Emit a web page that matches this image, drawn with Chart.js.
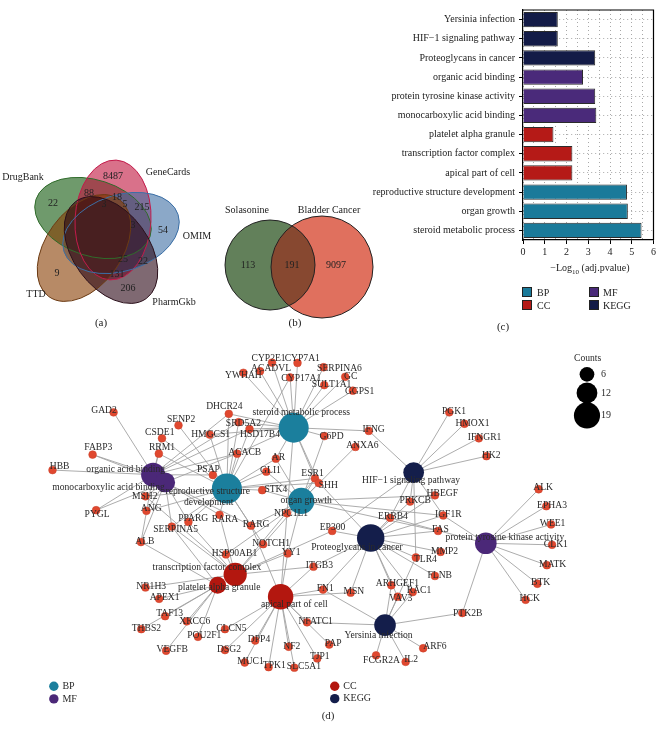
<!DOCTYPE html>
<html>
<head>
<meta charset="utf-8">
<script src="https://cdn.jsdelivr.net/npm/chart.js@4.4.1/dist/chart.umd.min.js"></script>
<style>
  body { margin: 0; background: #fff; }
  #page { position: relative; width: 658px; height: 738px; overflow: hidden;
          font-family: 'Liberation Serif', 'DejaVu Serif', serif; color: #222; }
  canvas { position: absolute; }
  .cap { position: absolute; font-size: 11px; transform: translate(-50%, -50%); white-space: nowrap; }
  .lg { position: absolute; font-size: 10px; white-space: nowrap; transform: translateY(-50%); }
  .sq { position: absolute; width: 8px; height: 8px; border: 1px solid #222; transform: translateY(-50%); }
</style>
</head>
<body>
<div id="page">
  <canvas id="vennChart" width="380" height="180" style="left:0;top:150px"></canvas>
  <canvas id="barChart" width="318" height="262" style="left:340px;top:0"></canvas>
  <canvas id="netChart" width="658" height="408" style="left:0;top:330px"></canvas>

  <div class="cap" style="left:101px;top:322px">(a)</div>
  <div class="cap" style="left:295px;top:322px">(b)</div>
  <div class="cap" style="left:590px;top:269px;font-size:10px">&minus;Log<sub style="font-size:7px">10</sub> (adj.pvalue)</div>
  <div class="sq" style="left:522px;top:292px;background:#1a7a9a"></div>
  <div class="lg" style="left:537px;top:292px">BP</div>
  <div class="sq" style="left:589px;top:292px;background:#4a2a7a"></div>
  <div class="lg" style="left:603px;top:292px">MF</div>
  <div class="sq" style="left:522px;top:305px;background:#b51a17"></div>
  <div class="lg" style="left:537px;top:305px">CC</div>
  <div class="sq" style="left:589px;top:305px;background:#131b47"></div>
  <div class="lg" style="left:603px;top:305px">KEGG</div>
  <div class="cap" style="left:503px;top:326px">(c)</div>
</div>

<script>
// ---------- (a) five-set Venn ----------
const vennSets = ['DrugBank', 'GeneCards', 'OMIM', 'TTD', 'PharmGkb'];
const vennCx = [93, 113, 121, 84, 111];
const vennCy = [218, 220, 233, 248, 250];
const vennRx = [60, 60, 60, 60, 60];
const vennRy = [38, 38, 38, 38, 38];
const vennAngle = [18, 93, -18, -54, 54];
const vennLabelX = [23, 168, 197, 36, 174];
const vennLabelY = [177, 172, 236, 294, 302];
const regionCounts = ['8487', '88', '18', '22', '3', '5', '215', '3', '54', '25', '22', '9', '131', '206'];
const regionX = [113, 89, 117, 53, 104, 125, 142, 133, 163, 123, 143, 57, 117, 128];
const regionY = [176, 193, 197, 203, 204, 204, 207, 225, 230, 259, 261, 273, 274, 288];

// ---------- (b) two-set Venn ----------
const pairSets = ['Solasonine', 'Bladder Cancer'];
const pairCounts = ['113', '191', '9097'];
const pairCx = [270, 322];
const pairCy = [265, 267];
const pairR = [45, 51];
const pairLabelX = [247, 329];
const pairCountX = [248, 292, 336];

// ---------- (c) enrichment bars ----------
const barTerms = ['Yersinia infection', 'HIF\u22121 signaling pathway', 'Proteoglycans in cancer',
  'organic acid binding', 'protein tyrosine kinase activity', 'monocarboxylic acid binding',
  'platelet alpha granule', 'transcription factor complex', 'apical part of cell',
  'reproductive structure development', 'organ growth', 'steroid metabolic process'];
const barValues = [1.6, 1.6, 3.32, 2.76, 3.32, 3.37, 1.4, 2.27, 2.27, 4.78, 4.82, 5.45];
const barCats = ['KEGG', 'KEGG', 'KEGG', 'MF', 'MF', 'MF', 'CC', 'CC', 'CC', 'BP', 'BP', 'BP'];
const xTicks = [0, 1, 2, 3, 4, 5, 6];

// ---------- (d) network ----------
const termNames = ['steroid metabolic process', 'reproductive structure development', 'organ growth',
  'organic acid binding', 'monocarboxylic acid binding', 'protein tyrosine kinase activity',
  'transcription factor complex', 'platelet alpha granule', 'apical part of cell',
  'Proteoglycans in cancer', 'HIF\u22121 signaling pathway', 'Yersinia infection'];
const termCats = ['BP', 'BP', 'BP', 'MF', 'MF', 'MF', 'CC', 'CC', 'CC', 'KEGG', 'KEGG', 'KEGG'];
const termCounts = [25, 25, 19, 16, 11, 13, 15, 8, 18, 21, 12, 13];
const termX = [292, 222, 300, 144.7, 157.3, 493.3, 230.7, 212.3, 278.3, 372.7, 417.7, 387.7];
const termY = [419.3, 485, 498.3, 470, 478.3, 544, 577.7, 589.3, 601.7, 538.3, 467.7, 632.3];

const termGenes = [
  ['CYP2E1', 'CYP7A1', 'ACADVL', 'YWHAH', 'CYP17A1', 'SERPINA6', 'GC', 'SULT1A1', 'GGPS1', 'DHCR24',
   'SRD5A2', 'HSD17B4', 'HMGCS1', 'G6PD', 'IFNG', 'ESR1', 'SHH', 'NPC1L1', 'ACACB', 'AR'],
  ['SRD5A2', 'HSD17B4', 'DHCR24', 'HMGCS1', 'ACACB', 'AR', 'GLI1', 'STK4', 'ESR1', 'SHH', 'PSAP',
   'SENP2', 'CSDE1', 'RRM1', 'RARA', 'RARG', 'PPARG', 'NOTCH1', 'SERPINA5', 'ANG', 'MSH2', 'CYP17A1'],
  ['ESR1', 'SHH', 'GLI1', 'AR', 'STK4', 'NPC1L1', 'NOTCH1', 'YY1', 'RARG', 'IGF1R', 'ANXA6', 'G6PD',
   'FAS', 'HSP90AB1', 'HBEGF'],
  ['GAD2', 'FABP3', 'HBB', 'ALB', 'ACACB', 'SRD5A2', 'HSD17B4', 'PSAP', 'CSDE1', 'RRM1', 'PYGL', 'DHCR24'],
  ['FABP3', 'PYGL', 'ALB', 'PPARG', 'RARA', 'RARG', 'ACACB', 'SERPINA5', 'MSH2', 'ANG'],
  ['ALK', 'EPHA3', 'WEE1', 'CLK1', 'MATK', 'BTK', 'HCK', 'PTK2B', 'IGF1R', 'ERBB4'],
  ['HSP90AB1', 'NOTCH1', 'YY1', 'NR1H3', 'RARA', 'PPARG', 'ESR1', 'EP300', 'ITGB3', 'SERPINA5', 'MSH2'],
  ['APEX1', 'TAF13', 'THBS2', 'XRCC6', 'POU2F1', 'VEGFB', 'ALB', 'SERPINA5'],
  ['CLCN5', 'DSG2', 'DPP4', 'MUC1', 'TPK1', 'NF2', 'SLC5A1', 'TJP1', 'PAP', 'NFATC1', 'FN1', 'MSN',
   'ITGB3', 'NPC1L1', 'YY1', 'RARG'],
  ['ERBB4', 'FAS', 'MMP2', 'TLR4', 'FLNB', 'ARHGEF1', 'RAC1', 'VAV3', 'MSN', 'FN1', 'ITGB3', 'PRKCB',
   'HBEGF', 'IGF1R', 'ESR1', 'EP300'],
  ['PGK1', 'HMOX1', 'IFNGR1', 'HK2', 'IFNG', 'EP300', 'PRKCB', 'TLR4', 'IGF1R', 'ERBB4'],
  ['ARHGEF1', 'VAV3', 'RAC1', 'TLR4', 'FN1', 'NFATC1', 'PTK2B', 'ARF6', 'IL2', 'FCGR2A']
];

const geneNames = ['CYP2E1', 'CYP7A1', 'ACADVL', 'YWHAH', 'CYP17A1', 'SERPINA6', 'GC', 'SULT1A1', 'GGPS1',
  'DHCR24', 'SRD5A2', 'HSD17B4', 'HMGCS1', 'GAD2', 'SENP2', 'CSDE1', 'FABP3', 'RRM1', 'ACACB', 'HBB',
  'PSAP', 'AR', 'GLI1', 'STK4', 'ESR1', 'SHH', 'NPC1L1', 'MSH2', 'PYGL', 'ANG', 'PPARG', 'RARA', 'RARG',
  'SERPINA5', 'ALB', 'NOTCH1', 'YY1', 'HSP90AB1', 'NR1H3', 'APEX1', 'TAF13', 'THBS2', 'XRCC6', 'CLCN5',
  'POU2F1', 'VEGFB', 'DSG2', 'DPP4', 'MUC1', 'TPK1', 'NF2', 'SLC5A1', 'NFATC1', 'PAP', 'TJP1', 'FN1',
  'MSN', 'ITGB3', 'EP300', 'FAS', 'MMP2', 'TLR4', 'FLNB', 'ARHGEF1', 'RAC1', 'VAV3', 'PTK2B', 'ARF6',
  'FCGR2A', 'IL2', 'CLK1', 'MATK', 'BTK', 'HCK', 'WEE1', 'ALK', 'EPHA3', 'PGK1', 'HMOX1', 'IFNGR1',
  'HK2', 'IFNG', 'G6PD', 'ANXA6', 'HBEGF', 'PRKCB', 'IGF1R', 'ERBB4'];
const geneX = [269.3, 296, 256.7, 239.3, 288.3, 323.3, 346, 324, 354,
  224, 234.3, 245.7, 204, 103.3, 171.3, 154, 81.3, 150.7, 232.7, 39.3,
  207.3, 273.3, 263.3, 259, 314.3, 318.3, 285, 136.7, 85, 137.7, 181.7, 214.3, 247.3,
  164.3, 132, 260, 285.7, 221, 136.7, 151, 157.3, 132.3, 180, 220,
  191.7, 158.3, 220, 251.7, 240.7, 265.7, 286.7, 292.7, 306, 329.3, 316.7, 322.7,
  351.7, 312.7, 332.3, 443.3, 446, 420, 440, 394.3, 416.7, 401, 468.7, 427.7,
  378.3, 409.3, 562.7, 557.3, 547.3, 535, 561.7, 548.7, 556.7, 455, 471, 486,
  494, 370.7, 324.3, 356.7, 440, 414, 448.7, 393];
const geneY = [349, 349.3, 358.3, 360, 365, 354, 364.3, 373.3, 379.3,
  404.3, 413.3, 420.7, 426.7, 402.7, 416.7, 430.7, 448.3, 447.3, 447.3, 465,
  470.3, 452.7, 466.7, 486.7, 474, 479, 511.7, 493.3, 508.3, 509, 521, 513.3, 525,
  526, 542.7, 545, 555, 556, 591.7, 604, 622.7, 636.7, 628.3, 636.7,
  645, 660, 659.3, 649, 672.7, 677.7, 655.7, 678.3, 629.3, 653.3, 668.3, 594,
  597.3, 569.3, 530.7, 530.7, 553.3, 559.3, 579.3, 589.3, 596.7, 601.7, 619.3, 657.3,
  665, 672, 545.7, 567.7, 587.7, 605, 523.7, 485.7, 504, 402.7, 415, 430.7,
  450, 422.7, 428.3, 440, 492.3, 499, 514, 516.5];

// label anchor points (layout units, same space as the nodes)
const geneLabelPos = {
  CYP2E1: [265.7, 344], CYP7A1: [301, 344.7], ACADVL: [268.3, 355], YWHAH: [239.3, 363.3],
  CYP17A1: [300, 365.7], SERPINA6: [340, 355.7], GC: [351.7, 364.3], SULT1A1: [331.7, 372.7],
  GGPS1: [361, 380], DHCR24: [219.3, 396], SRD5A2: [239.3, 414.3], HSD17B4: [256.7, 426.7],
  HMGCS1: [205, 426.7], GAD2: [93.3, 401], SENP2: [174, 410.7], CSDE1: [151.7, 424.3],
  FABP3: [87.3, 441], RRM1: [154, 441], ACACB: [240.7, 446], HBB: [46.7, 461], PSAP: [202.7, 464.7],
  AR: [276, 451.7], GLI1: [267.7, 465.7], STK4: [273.3, 486], ESR1: [311.7, 469], SHH: [328.3, 481.7],
  NPC1L1: [289.3, 511.7], MSH2: [136, 493.3], PYGL: [86, 513.3], ANG: [142.7, 506.7],
  PPARG: [186.7, 516.7], RARA: [220, 518.3], RARG: [252.7, 524], SERPINA5: [168.3, 529.3],
  ALB: [136, 541.7], NOTCH1: [268.3, 544], YY1: [289.3, 554], HSP90AB1: [230, 555],
  NR1H3: [142.7, 590.7], APEX1: [156.7, 602.7], TAF13: [162, 620], THBS2: [137.7, 636],
  XRCC6: [188.3, 628.3], CLCN5: [226.7, 635.7], POU2F1: [198.3, 644], VEGFB: [164.7, 659],
  DSG2: [224.3, 658.3], DPP4: [255.7, 648.3], MUC1: [246.7, 671.7], TPK1: [271.7, 676],
  NF2: [290, 655], SLC5A1: [302.7, 677.3], NFATC1: [315, 628.3], PAP: [333.3, 652.3],
  TJP1: [319.3, 666.7], FN1: [325, 593.3], MSN: [355, 596], ITGB3: [319, 567.7], EP300: [332.7, 526.7],
  FAS: [445.7, 529.3], MMP2: [450, 553.3], TLR4: [430, 561], FLNB: [445, 578.3],
  ARHGEF1: [400.7, 587.7], RAC1: [423.3, 595], VAV3: [404.3, 603.3], PTK2B: [474.3, 619.3],
  ARF6: [440, 655.7], FCGR2A: [384, 670.7], IL2: [415, 669.3], CLK1: [566.7, 545],
  MATK: [563.3, 566.7], BTK: [550.7, 586.7], HCK: [539.3, 604], WEE1: [563.3, 522.7],
  ALK: [553.3, 484], EPHA3: [562.7, 502.7], PGK1: [460, 401.7], HMOX1: [479.3, 414.3],
  IFNGR1: [492, 429.3], HK2: [499, 449], IFNG: [375.7, 420.7], G6PD: [331.7, 428.3],
  ANXA6: [364, 438.3], HBEGF: [447.7, 490], PRKCB: [419.3, 497.3], IGF1R: [454, 512.7],
  ERBB4: [396, 515]
};
const termLabelPos = [[300, 403], [202, 494], [305, 498.3], [116, 464.3], [98, 484], [513.3, 537.3],
  [201, 570], [214, 591.7], [292.7, 610], [358.3, 548.3], [415, 475.7], [381, 643.3]];
const legendCounts = [6, 12, 19];

// Colours
const vennFill = ['#0f570a', '#c0123c', '#3e6ea3', '#873c00', '#2a0514'];
const vennEdge = ['#2f6b2a', '#c21a4a', '#3a6ea5', '#6b3a12', '#2a0f1a'];
const catColor = { BP: '#1a7a9a', MF: '#4a2a7a', CC: '#b51a17', KEGG: '#131b47' };
const netColor = { BP: '#1b7f9d', MF: '#4b2878', CC: '#b3170f', KEGG: '#141e4b' };
const geneColor = '#e0482f';
const FONT = "'Liberation Serif', 'DejaVu Serif', serif";

Chart.defaults.font.family = FONT;
Chart.defaults.color = '#222';

function nodeRadius(count) {
  return 3 * Math.sqrt(count);
}

// ---------- Venn panels ----------
const vennPlugin = {
  id: 'vennShapes',
  beforeDatasetsDraw(chart) {
    const ctx = chart.ctx, sx = chart.scales.x, sy = chart.scales.y;
    const u = Math.abs(sx.getPixelForValue(1) - sx.getPixelForValue(0));
    ctx.save();
    // five ellipses, translucent so the overlaps darken
    ctx.globalAlpha = 0.6;
    vennSets.forEach((s, i) => {
      ctx.beginPath();
      ctx.ellipse(sx.getPixelForValue(vennCx[i]), sy.getPixelForValue(vennCy[i]),
        vennRx[i] * u, vennRy[i] * u, vennAngle[i] * Math.PI / 180, 0, Math.PI * 2);
      ctx.fillStyle = vennFill[i];
      ctx.fill();
    });
    ctx.globalAlpha = 1;
    ctx.lineWidth = 1;
    vennSets.forEach((s, i) => {
      ctx.beginPath();
      ctx.ellipse(sx.getPixelForValue(vennCx[i]), sy.getPixelForValue(vennCy[i]),
        vennRx[i] * u, vennRy[i] * u, vennAngle[i] * Math.PI / 180, 0, Math.PI * 2);
      ctx.strokeStyle = vennEdge[i];
      ctx.stroke();
    });

    // two circles
    const circle = (i) => {
      ctx.beginPath();
      ctx.arc(sx.getPixelForValue(pairCx[i]), sy.getPixelForValue(pairCy[i]), pairR[i] * u, 0, Math.PI * 2);
    };
    circle(0); ctx.fillStyle = '#62805a'; ctx.fill();
    circle(1); ctx.fillStyle = '#e0705e'; ctx.fill();
    ctx.save();
    circle(0); ctx.clip();
    circle(1); ctx.fillStyle = '#874830'; ctx.fill();
    ctx.restore();
    ctx.strokeStyle = '#222';
    circle(0); ctx.stroke();
    circle(1); ctx.stroke();
    ctx.restore();
  },
  afterDatasetsDraw(chart) {
    const ctx = chart.ctx, sx = chart.scales.x, sy = chart.scales.y;
    ctx.save();
    ctx.fillStyle = '#222';
    ctx.textAlign = 'center';
    ctx.textBaseline = 'middle';
    ctx.font = '10px ' + FONT;
    regionCounts.forEach((t, i) => ctx.fillText(t, sx.getPixelForValue(regionX[i]), sy.getPixelForValue(regionY[i])));
    vennSets.forEach((t, i) => ctx.fillText(t, sx.getPixelForValue(vennLabelX[i]), sy.getPixelForValue(vennLabelY[i])));
    pairCounts.forEach((t, i) => ctx.fillText(t, sx.getPixelForValue(pairCountX[i]), sy.getPixelForValue(265.5)));
    pairSets.forEach((t, i) => ctx.fillText(t, sx.getPixelForValue(pairLabelX[i]), sy.getPixelForValue(210)));
    ctx.restore();
  }
};

new Chart(document.getElementById('vennChart'), {
  type: 'scatter',
  data: {
    datasets: [{
      data: regionX.map((x, i) => ({ x: x, y: regionY[i] })),
      pointRadius: 0
    }]
  },
  options: {
    responsive: false, animation: false, devicePixelRatio: 1,
    layout: { padding: 0 },
    plugins: { legend: { display: false }, tooltip: { enabled: false } },
    scales: {
      x: { type: 'linear', min: 0, max: 380, display: false },
      y: { type: 'linear', min: 150, max: 330, reverse: true, display: false }
    }
  },
  plugins: [vennPlugin]
});

// ---------- Bar chart ----------
const boxPlugin = {
  id: 'frame',
  afterDraw(chart) {
    const { ctx, chartArea: a } = chart;
    ctx.save();
    ctx.strokeStyle = '#000';
    ctx.lineWidth = 1.2;
    ctx.beginPath();
    ctx.moveTo(a.left, a.top);
    ctx.lineTo(a.right, a.top);
    ctx.lineTo(a.right, a.bottom);
    ctx.stroke();
    ctx.restore();
  }
};

new Chart(document.getElementById('barChart'), {
  type: 'bar',
  data: {
    labels: barTerms,
    datasets: [{
      data: barValues,
      backgroundColor: barCats.map(c => catColor[c]),
      borderColor: '#2b2b2b',
      borderWidth: 1,
      barPercentage: 0.8,
      categoryPercentage: 1
    }]
  },
  options: {
    indexAxis: 'y',
    responsive: false, animation: false, devicePixelRatio: 1,
    layout: { padding: { top: 1, right: 2, left: 0, bottom: 0 } },
    plugins: { legend: { display: false }, tooltip: { enabled: false } },
    scales: {
      x: {
        min: 0, max: 6,
        afterFit: s => { s.height = 22; },
        ticks: {
          stepSize: 0.5,
          callback: v => (xTicks.includes(v) ? String(v) : ''),
          font: { size: 10 }, color: '#222', padding: 2, maxRotation: 0
        },
        grid: {
          color: '#a8a8a8', lineWidth: 1, tickLength: 4,
          tickColor: c => (xTicks.includes(c.tick && c.tick.value) ? '#000' : 'rgba(0,0,0,0)')
        },
        border: { display: true, color: '#000', width: 1.2, dash: [1, 3] }
      },
      y: {
        afterFit: s => { s.width = 183; },
        ticks: { font: { size: 10 }, color: '#222', padding: 4 },
        grid: { offset: false, color: '#a8a8a8', lineWidth: 1, tickLength: 4, tickColor: '#000' },
        border: { display: true, color: '#000', width: 1.2, dash: [1, 3] }
      }
    }
  },
  plugins: [boxPlugin]
});

// ---------- Network ----------
const edgeDatasets = [];
termGenes.forEach((list, t) => {
  list.forEach(g => {
    const gi = geneNames.indexOf(g);
    if (gi < 0) return;
    edgeDatasets.push({
      data: [{ x: geneX[gi], y: geneY[gi] }, { x: termX[t], y: termY[t] }],
      showLine: true, pointRadius: 0, borderColor: '#a3a3a3', borderWidth: 0.9, order: 10
    });
  });
});

const geneDataset = {
  data: geneNames.map((g, i) => ({ x: geneX[i], y: geneY[i] })),
  pointRadius: 3.9, backgroundColor: geneColor, borderColor: '#c9402a', borderWidth: 0.5, order: 5
};

const termDatasets = ['BP', 'MF', 'CC', 'KEGG'].map(cat => {
  const idx = termCats.map((c, i) => (c === cat ? i : -1)).filter(i => i >= 0);
  return {
    data: idx.map(i => ({ x: termX[i], y: termY[i], n: termCounts[i] })),
    pointRadius: c => nodeRadius(c.raw ? c.raw.n : 6),
    backgroundColor: netColor[cat], borderWidth: 0, order: 1
  };
});

const netLabels = {
  id: 'netLabels',
  afterDatasetsDraw(chart) {
    const ctx = chart.ctx, sx = chart.scales.x, sy = chart.scales.y;
    const X = v => sx.getPixelForValue(v), Y = v => sy.getPixelForValue(v);
    ctx.save();
    ctx.fillStyle = '#2a2a2a';
    ctx.textAlign = 'center';
    ctx.textBaseline = 'middle';
    ctx.font = '9.6px ' + FONT;
    geneNames.forEach(g => {
      const p = geneLabelPos[g];
      ctx.fillText(g, X(p[0]), Y(p[1]));
    });
    termNames.forEach((t, i) => {
      const p = termLabelPos[i];
      if (i === 1) {
        ctx.fillText('reproductive structure', X(p[0]), Y(p[1] - 6));
        ctx.fillText('development', X(p[0] + 1), Y(p[1] + 6));
      } else {
        ctx.fillText(t, X(p[0]), Y(p[1]));
      }
    });

    // size legend
    ctx.fillText('Counts', X(600), Y(344));
    const legY = [361.7, 381.7, 406];
    legendCounts.forEach((n, i) => {
      ctx.beginPath();
      ctx.arc(X(599.3), Y(legY[i]), nodeRadius(n), 0, Math.PI * 2);
      ctx.fillStyle = '#000';
      ctx.fill();
      ctx.fillStyle = '#2a2a2a';
      ctx.textAlign = 'left';
      ctx.font = '10px ' + FONT;
      ctx.fillText(String(n), X(614), Y(legY[i]));
    });

    // category legend
    const legCats = ['BP', 'MF', 'CC', 'KEGG'];
    const legX = [40.7, 40.7, 335, 335];
    const legCY = [698.3, 712, 698.3, 711.7];
    legCats.forEach((c, i) => {
      ctx.beginPath();
      ctx.arc(X(legX[i]), Y(legCY[i]), 4.7, 0, Math.PI * 2);
      ctx.fillStyle = netColor[c];
      ctx.fill();
      ctx.fillStyle = '#2a2a2a';
      ctx.fillText(c, X(legX[i] + 9), Y(legCY[i]));
    });
    ctx.textAlign = 'center';
    ctx.font = '11px ' + FONT;
    ctx.fillText('(d)', X(328), Y(731));
    ctx.restore();
  }
};

new Chart(document.getElementById('netChart'), {
  type: 'scatter',
  data: { datasets: [...termDatasets, geneDataset, ...edgeDatasets] },
  options: {
    responsive: false, animation: false, devicePixelRatio: 1,
    layout: { padding: 0 },
    plugins: { legend: { display: false }, tooltip: { enabled: false } },
    scales: {
      x: { type: 'linear', min: 0, max: 658, display: false },
      y: { type: 'linear', min: 330, max: 738, reverse: true, display: false }
    }
  },
  plugins: [netLabels]
});
</script>
</body>
</html>
